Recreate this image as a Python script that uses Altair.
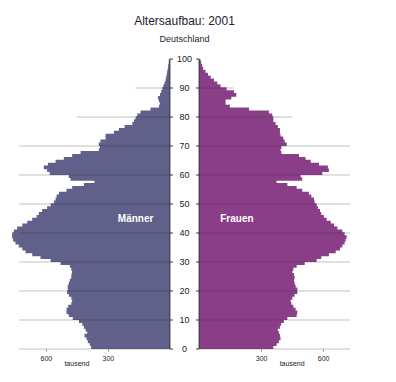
import altair as alt
import pandas as pd

# ---- data (thousands) ----
ages = list(range(100))
maenner = [381, 387, 397, 403, 413, 400, 408, 416, 424, 440,
           470, 489, 500, 500, 492, 477, 473, 477, 489, 497,
           494, 494, 489, 484, 477, 476, 473, 477, 484, 529,
           577, 626, 666, 698, 714, 731, 747, 758, 763, 763,
           755, 739, 714, 690, 666, 645, 634, 618, 594, 577,
           561, 553, 548, 537, 500, 473, 416, 365, 481, 489,
           581, 594, 610, 590, 553, 513, 473, 432, 344, 339,
           344, 336, 311, 311, 271, 247, 219, 182, 174, 166,
           158, 142, 94, 53, 48, 53, 58, 48, 42, 37,
           32, 26, 21, 18, 15, 13, 10, 8, 6, 5]
frauen = [359, 375, 386, 394, 391, 386, 381, 391, 397, 410,
          427, 472, 475, 467, 456, 446, 443, 451, 462, 475,
          475, 467, 462, 459, 462, 459, 451, 456, 472, 511,
          569, 591, 628, 661, 682, 693, 704, 709, 714, 704,
          693, 669, 653, 637, 617, 604, 591, 585, 575, 569,
          559, 556, 543, 531, 499, 472, 427, 375, 499, 491,
          596, 628, 623, 580, 540, 515, 483, 398, 394, 398,
          424, 414, 407, 394, 391, 391, 381, 370, 359, 359,
          354, 338, 241, 149, 128, 128, 156, 180, 169, 133,
          104, 88, 72, 56, 43, 31, 20, 15, 10, 7]
grid_ages = [0, 10, 20, 30, 40, 50, 60, 70, 80, 90]
grid_len = [730, 730, 730, 730, 730, 730, 730, 730, 450, 167]
tick_ages = [0, 10, 20, 30, 40, 50, 60, 70, 80, 90, 100]
x_tick_values = [300, 600]

G = 70.6      # half gap between panels (in data units)
XMAX = 730
TK = 14.5     # tick length in data units (~3px)

MEN_C = "#60608a"
WOMEN_C = "#8a3e88"
FONT = "Liberation Sans"

df = pd.DataFrame({"age": ages, "m": maenner, "f": frauen})
grid_df = pd.DataFrame({"age": grid_ages, "len": grid_len})
tick_df = pd.DataFrame({"age": tick_ages})

xs = alt.Scale(domain=[-(XMAX + G), XMAX + G], nice=False, zero=False)
ys = alt.Scale(domain=[0, 100], nice=False, zero=False)

xaxis_vals = [-(G + v) for v in x_tick_values] + [G + v for v in x_tick_values]

men = alt.Chart(df).transform_calculate(
    x1=f"-{G} - datum.m", x2=f"-{G}",
    y2="datum.age < 99 ? datum.age + 1.25 : datum.age + 1"
).mark_rect(color=MEN_C, opacity=1).encode(
    x=alt.X("x1:Q", scale=xs, axis=alt.Axis(
        values=xaxis_vals, labelExpr=f"format(abs(datum.value) - {G}, '.0f')",
        domain=False, grid=False, ticks=True, tickSize=2, tickColor="#888888",
        labelFontSize=7, labelColor="#222222", labelPadding=3, title=None,
        labelFont=FONT)),
    x2="x2:Q",
    y=alt.Y("age:Q", scale=ys, axis=None),
    y2="y2:Q",
)

women = alt.Chart(df).transform_calculate(
    x1=f"{G}", x2=f"{G} + datum.f",
    y2="datum.age < 99 ? datum.age + 1.25 : datum.age + 1"
).mark_rect(color=WOMEN_C, opacity=1).encode(
    x=alt.X("x1:Q", scale=xs), x2="x2:Q",
    y=alt.Y("age:Q", scale=ys), y2="y2:Q",
)

grid_l = alt.Chart(grid_df).transform_calculate(
    a=f"-{G}", b=f"-{G} - datum.len"
).mark_rule(color="#333333", opacity=0.3, strokeWidth=1).encode(
    x=alt.X("a:Q", scale=xs), x2="b:Q", y=alt.Y("age:Q", scale=ys))
grid_r = alt.Chart(grid_df).transform_calculate(
    a=f"{G}", b=f"{G} + datum.len"
).mark_rule(color="#333333", opacity=0.3, strokeWidth=1).encode(
    x=alt.X("a:Q", scale=xs), x2="b:Q", y=alt.Y("age:Q", scale=ys))

vaxis = alt.Chart(pd.DataFrame({"x": [-G, G]})).transform_calculate(
    y0="0", y1="100"
).mark_rule(color="#333333", strokeWidth=1).encode(
    x=alt.X("x:Q", scale=xs), y=alt.Y("y0:Q", scale=ys), y2="y1:Q")

ticks_l = alt.Chart(tick_df).transform_calculate(
    a=f"-{G}", b=f"-{G} + {TK}"
).mark_rule(color="#333333", strokeWidth=1).encode(
    x=alt.X("a:Q", scale=xs), x2="b:Q", y=alt.Y("age:Q", scale=ys))
ticks_r = alt.Chart(tick_df).transform_calculate(
    a=f"{G}", b=f"{G} - {TK}"
).mark_rule(color="#333333", strokeWidth=1).encode(
    x=alt.X("a:Q", scale=xs), x2="b:Q", y=alt.Y("age:Q", scale=ys))

age_labels = alt.Chart(tick_df).transform_calculate(c="0").mark_text(
    fontSize=9, color="#222222", font=FONT, align="center", baseline="middle"
).encode(x=alt.X("c:Q", scale=xs), y=alt.Y("age:Q", scale=ys), text="age:Q")

tausend = alt.Chart(pd.DataFrame({"x": [-(G + 450), G + 450], "t": ["tausend", "tausend"]})).mark_text(
    fontSize=7, color="#222222", font=FONT, align="center", baseline="alphabetic"
).encode(x=alt.X("x:Q", scale=xs), y=alt.value(307), text="t:N")

sex_labels = alt.Chart(pd.DataFrame({
    "x": [-(G + 166), G + 183], "age": [45, 45], "t": ["Männer", "Frauen"]
})).mark_text(
    fontSize=10, fontWeight="bold", color="white", font=FONT,
    align="center", baseline="middle"
).encode(x=alt.X("x:Q", scale=xs), y=alt.Y("age:Q", scale=ys), text="t:N")

chart = alt.layer(
    men, women, grid_l, grid_r, vaxis, ticks_l, ticks_r, age_labels, tausend, sex_labels
).properties(
    width=331, height=290,
    title=alt.TitleParams(
        "Altersaufbau: 2001", subtitle="Deutschland", fontSize=12,
        subtitleFontSize=9, fontWeight="normal", font=FONT, subtitleFont=FONT,
        color="#222233", subtitleColor="#222233", anchor="middle",
        offset=10, subtitlePadding=7),
    autosize=alt.AutoSizeParams(type="none"),
    padding={"left": 11, "top": 51, "right": 30, "bottom": 25},
).configure_view(stroke=None)

chart.save("out.html", embed_options={"renderer": "svg", "actions": False})
